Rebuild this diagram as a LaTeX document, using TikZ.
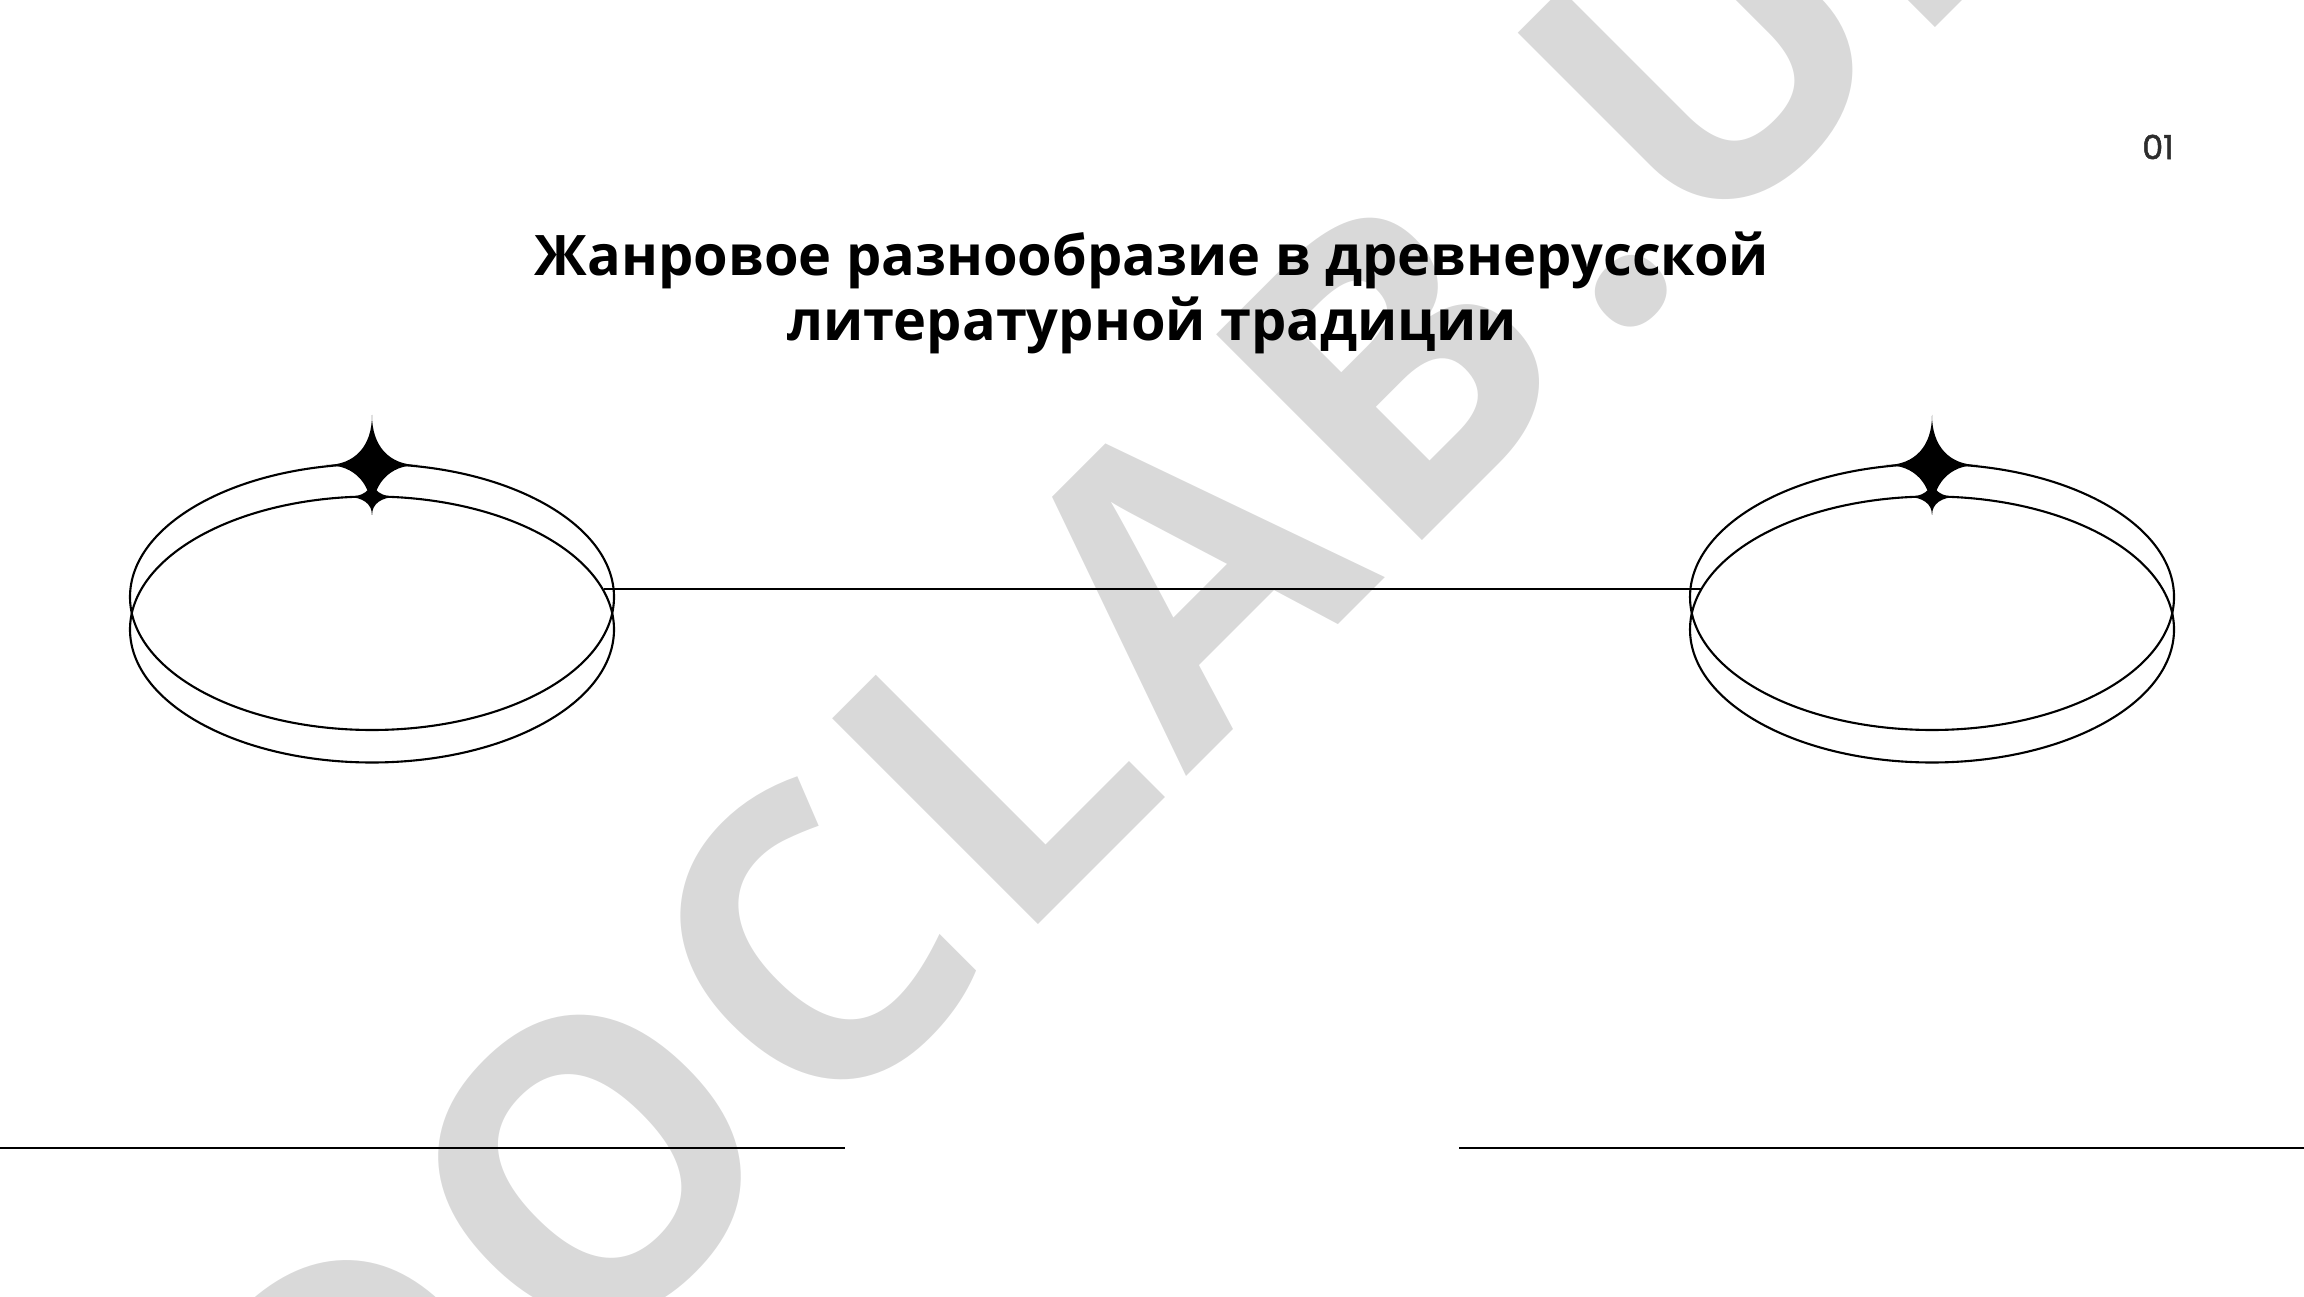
\documentclass[tikz,border=0pt]{standalone}
\usepackage{fontspec}
\setmainfont{Open Sans}
\newfontfamily\pagenumfont[FakeBold=1.5]{Poppins}
\newfontfamily\stampfont[LetterSpace=3.7]{Open Sans}
\usetikzlibrary{shapes.geometric}
\definecolor{wmark}{RGB}{217,217,217}
\definecolor{pagenum}{RGB}{45,45,45}
% sparkle: centre x, centre y, half width, half height
\newcommand{\drawsparkle}[4]{\fill (#1,#2+#4) .. controls (#1,#2+.38*#4) and (#1+.37*#3,#2) .. (#1+#3,#2) .. controls (#1+.37*#3,#2) and (#1,#2-.38*#4) .. (#1,#2-#4) .. controls (#1,#2-.38*#4) and (#1-.37*#3,#2) .. (#1-#3,#2) .. controls (#1-.37*#3,#2) and (#1,#2+.38*#4) .. (#1,#2+#4) -- cycle;}
\newcommand{\drawrule}{\draw[line width=.75pt]}
\tikzset{ring/.style={draw, ellipse, minimum width=4.84cm, minimum height=2.66cm, inner sep=0pt, line width=.6pt}}

\begin{document}
\begin{tikzpicture}
\useasboundingbox (0,0) rectangle (23.04,12.96);
\node[text=wmark, rotate=45, anchor=base, font=\stampfont\bfseries\fontsize{116}{116}\selectfont] (stamp) at (12.25,5.58) {DOCLAB\kern.07em.\kern.025em UZ};
\node[font=\bfseries\fontsize{15.9}{18.5}\selectfont, align=center, inner sep=0pt] (title) at (11.52,10.03) {Жанровое разнообразие в древнерусской\\литературной традиции};
\node[text=pagenum, font=\pagenumfont\fontsize{9.5}{9.5}\selectfont] (pnum) at (21.58,11.49) {01};
\node[ring] (topL) at (3.72,6.99) {};
\node[ring] (lowL) at (3.72,6.665) {};
\node[ring] (topR) at (19.32,6.99) {};
\node[ring] (lowR) at (19.32,6.665) {};
\drawsparkle{3.72}{8.31}{.46}{.5}
\drawsparkle{3.72}{7.99}{.25}{.18}
\drawsparkle{19.32}{8.31}{.46}{.5}
\drawsparkle{19.32}{7.99}{.25}{.18}
\draw[line width=.6pt] (lowL.10) -- (lowR.170);
\drawrule (0,1.48) -- (8.45,1.48);
\drawrule (14.59,1.48) -- (23.04,1.48);
\end{tikzpicture}
\end{document}
